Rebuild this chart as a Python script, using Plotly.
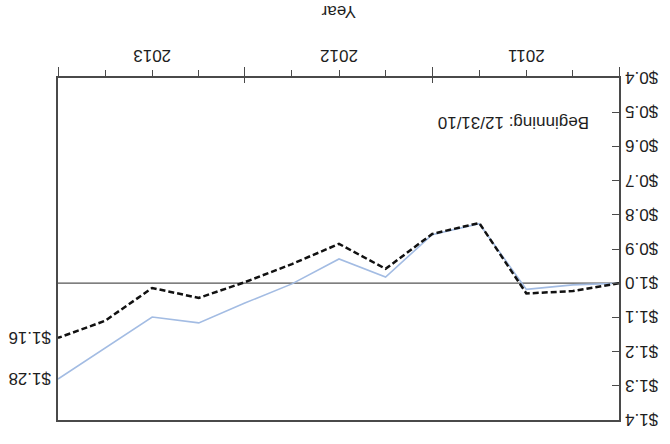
import plotly.graph_objects as go

# Quarter-end dates, growth of $1 invested on 12/31/10
quarter_end = ["2010-12-31", "2011-03-31", "2011-06-30", "2011-09-30", "2011-12-31",
               "2012-03-31", "2012-06-30", "2012-09-30", "2012-12-31",
               "2013-03-31", "2013-06-30", "2013-09-30", "2013-12-31"]
fund_growth = [1.00, 1.023, 1.030, 0.824, 0.856, 0.958, 0.885, 0.944, 0.997,
               1.043, 1.014, 1.110, 1.16]
index_growth = [1.00, 1.005, 1.018, 0.826, 0.858, 0.982, 0.929, 1.002, 1.058,
                1.116, 1.099, 1.190, 1.28]

year_labels = ["2011", "2012", "2013"]
year_mid = ["2011-06-30", "2012-06-30", "2013-06-30"]
year_bounds = ["2010-12-31", "2011-12-31", "2012-12-31", "2013-12-31"]
baseline = 1.0
y_range = [0.4, 1.4]
start_note = "Beginning: 12/31/10"

FONT = "Arial"
AXIS = "#4a4a4a"
TEXT = "#1e1e1e"

fig = go.Figure()

fig.add_trace(go.Scatter(
    x=quarter_end, y=index_growth, mode="lines",
    line=dict(color="#a3bce3", width=1.6),
    hoverinfo="skip", showlegend=False,
))
fig.add_trace(go.Scatter(
    x=quarter_end, y=fund_growth, mode="lines",
    line=dict(color="#111111", width=2.5, dash="6px,3px"),
    hoverinfo="skip", showlegend=False,
))

# $1.00 reference line
fig.add_shape(type="line", xref="paper", x0=0, x1=1, yref="y", y0=baseline, y1=baseline,
              line=dict(color="#555555", width=1.3), layer="below")

# ending values
for series in (fund_growth, index_growth):
    fig.add_annotation(x=quarter_end[-1], y=series[-1], xref="x", yref="y",
                       text=f"${series[-1]:.2f}", showarrow=False,
                       xanchor="left", yanchor="middle", xshift=5,
                       font=dict(family=FONT, size=17, color=TEXT))

fig.add_annotation(x=0.05, y=0.13, xref="paper", yref="paper", text=start_note,
                   showarrow=False, xanchor="left", yanchor="middle",
                   font=dict(family=FONT, size=17, color=TEXT))

fig.add_annotation(x=0.5, y=-0.193, xref="paper", yref="paper", text="Year",
                   showarrow=False, xanchor="center", yanchor="middle",
                   font=dict(family=FONT, size=17, color=TEXT))

x_range = [quarter_end[0], quarter_end[-1]]

fig.update_layout(
    width=670, height=444,
    margin=dict(l=49, r=58, t=24, b=78),
    paper_bgcolor="white", plot_bgcolor="white",
    font=dict(family=FONT, size=17, color=TEXT),
    xaxis=dict(
        type="date", range=x_range,
        tickmode="array", tickvals=year_mid, ticktext=year_labels,
        ticks="outside", ticklen=6, tickwidth=1.2, tickcolor=AXIS,
        minor=dict(tickmode="array", tickvals=quarter_end, ticks="outside",
                   ticklen=6, tickwidth=1.2, tickcolor=AXIS, showgrid=False),
        showline=True, linecolor=AXIS, linewidth=1.5, mirror=True,
        showgrid=False, zeroline=False,
        tickfont=dict(family=FONT, size=17, color=TEXT),
    ),
    xaxis2=dict(
        type="date", range=x_range, overlaying="x", anchor="y", side="bottom",
        tickmode="array", tickvals=year_bounds, ticktext=[""] * len(year_bounds),
        ticks="outside", ticklen=10, tickwidth=1.2, tickcolor=AXIS,
        showline=False, showgrid=False, zeroline=False, showticklabels=False,
    ),
    xaxis3=dict(
        type="date", range=x_range, overlaying="x", anchor="y", side="bottom",
        tickmode="array", tickvals=year_bounds, ticktext=[""] * len(year_bounds),
        ticks="inside", ticklen=5, tickwidth=1.2, tickcolor=AXIS,
        showline=False, showgrid=False, zeroline=False, showticklabels=False,
    ),
    yaxis=dict(
        range=y_range, tick0=0.4, dtick=0.1, tickformat="$.1f",
        ticks="inside", ticklen=7, tickwidth=1.2, tickcolor=AXIS,
        showline=True, linecolor=AXIS, linewidth=1.5, mirror=True,
        showgrid=False, zeroline=False, ticklabelstandoff=1,
        tickfont=dict(family=FONT, size=17, color=TEXT),
    ),
)

# invisible markers so the overlay axes are drawn
fig.add_trace(go.Scatter(x=[quarter_end[0]], y=[baseline], xaxis="x2", mode="markers",
                         marker=dict(opacity=0), hoverinfo="skip", showlegend=False))
fig.add_trace(go.Scatter(x=[quarter_end[0]], y=[baseline], xaxis="x3", mode="markers",
                         marker=dict(opacity=0), hoverinfo="skip", showlegend=False))

# the page shows the chart turned half a revolution
post = ("document.body.style.margin='0';"
        "var d=document.getElementById('{plot_id}');"
        "d.style.transformOrigin='50% 50%';"
        "d.style.transform='rotate(180deg)';")

fig.write_html("out.html", post_script=post, config={"displayModeBar": False})
